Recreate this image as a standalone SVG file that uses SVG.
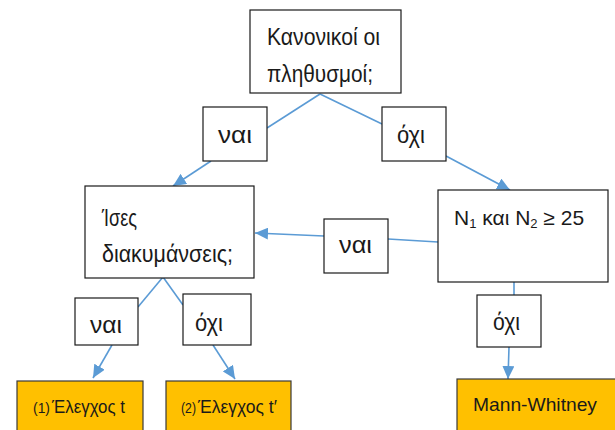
<svg xmlns="http://www.w3.org/2000/svg" width="615" height="430" viewBox="0 0 615 430">
<style>
.box{fill:#fff;stroke:#1a1a1a;stroke-width:1.2}
.res{fill:#FFC000;stroke:#3a3a3a;stroke-width:1.2}
.t{font-family:"Liberation Sans",Arial,sans-serif;fill:#1a1a1a}
.big{font-size:24px}
.lab{font-size:23px}
.mid{font-size:21px}
.sm{font-size:19px}
.xs{font-size:15px}
.sub{font-size:13px}
.c{stroke:#5B9BD5;stroke-width:1.6;fill:none}
.ca{stroke:#5B9BD5;stroke-width:1.6;fill:none;marker-end:url(#ah)}
</style>
<defs>
<marker id="ah" markerUnits="userSpaceOnUse" markerWidth="14" markerHeight="12" refX="13" refY="6" orient="auto">
<path d="M0,0 L13,6 L0,12 Z" fill="#5B9BD5"/>
</marker>
</defs>
<rect width="615" height="430" fill="#fff"/>
<g id="connectors">
<line class="c" x1="320" y1="94" x2="267" y2="128"/>
<line class="ca" x1="211" y1="161" x2="173" y2="186"/>
<line class="c" x1="320" y1="94" x2="382" y2="124"/>
<line class="ca" x1="446" y1="156" x2="510" y2="190"/>
<line class="c" x1="438" y1="242" x2="388" y2="239"/>
<line class="ca" x1="324" y1="236" x2="255" y2="233"/>
<line class="c" x1="163" y1="277" x2="138" y2="307"/>
<line class="ca" x1="112" y1="345" x2="93" y2="378"/>
<line class="c" x1="163" y1="277" x2="183" y2="305"/>
<line class="ca" x1="213" y1="345" x2="235" y2="379"/>
<line class="c" x1="514" y1="282" x2="514" y2="295"/>
<line class="ca" x1="509" y1="347" x2="508" y2="379"/>
</g>
<g id="n-normal">
<rect class="box" x="250" y="10" width="151" height="83"/>
<text class="t big" x="267" y="45" textLength="113" lengthAdjust="spacingAndGlyphs">Κανονικοί οι</text>
<text class="t big" x="267" y="82" textLength="106" lengthAdjust="spacingAndGlyphs">πληθυσμοί;</text>
</g>
<g id="l-yes1">
<rect class="box" x="203" y="107" width="64" height="54"/>
<text class="t lab" x="218" y="143" textLength="34" lengthAdjust="spacingAndGlyphs">ναι</text>
</g>
<g id="l-no1">
<rect class="box" x="382" y="107" width="64" height="54"/>
<text class="t lab" x="397" y="143" textLength="28" lengthAdjust="spacingAndGlyphs">όχι</text>
</g>
<g id="n-var">
<rect class="box" x="85" y="186" width="169" height="92"/>
<text class="t big" x="102" y="226" textLength="35" lengthAdjust="spacingAndGlyphs">Ίσες</text>
<text class="t big" x="102" y="262" textLength="131" lengthAdjust="spacingAndGlyphs">διακυμάνσεις;</text>
</g>
<g id="n-size">
<rect class="box" x="438" y="190" width="170" height="92"/>
<text class="t mid" x="454" y="225">N<tspan class="sub" dy="3">1</tspan><tspan dy="-3"> και N</tspan><tspan class="sub" dy="3">2</tspan><tspan dy="-3"> ≥ 25</tspan></text>
</g>
<g id="l-yes2">
<rect class="box" x="324" y="219" width="64" height="54"/>
<text class="t lab" x="339" y="253" textLength="33" lengthAdjust="spacingAndGlyphs">ναι</text>
</g>
<g id="l-yes3">
<rect class="box" x="75" y="298" width="63" height="47"/>
<text class="t lab" x="90" y="333" textLength="32" lengthAdjust="spacingAndGlyphs">ναι</text>
</g>
<g id="l-no3">
<rect class="box" x="183" y="294" width="68" height="51"/>
<text class="t lab" x="195" y="331" textLength="28" lengthAdjust="spacingAndGlyphs">όχι</text>
</g>
<g id="l-no2">
<rect class="box" x="477" y="295" width="64" height="52"/>
<text class="t lab" x="493" y="330" textLength="27" lengthAdjust="spacingAndGlyphs">όχι</text>
</g>
<g id="r-t">
<rect class="res" x="17" y="381" width="126" height="60"/>
<text class="t xs" x="33" y="413" textLength="17" lengthAdjust="spacingAndGlyphs">(1)</text>
<text class="t sm" x="52" y="413" textLength="73" lengthAdjust="spacingAndGlyphs">Έλεγχος t</text>
</g>
<g id="r-t2">
<rect class="res" x="166" y="381" width="125" height="60"/>
<text class="t xs" x="181" y="413" textLength="15" lengthAdjust="spacingAndGlyphs">(2)</text>
<text class="t sm" x="198" y="413" textLength="79" lengthAdjust="spacingAndGlyphs">Έλεγχος t′</text>
</g>
<g id="r-mw">
<rect class="res" x="457" y="379" width="170" height="62"/>
<text class="t sm" x="473" y="411" textLength="124" lengthAdjust="spacingAndGlyphs">Mann-Whitney</text>
</g>
</svg>
